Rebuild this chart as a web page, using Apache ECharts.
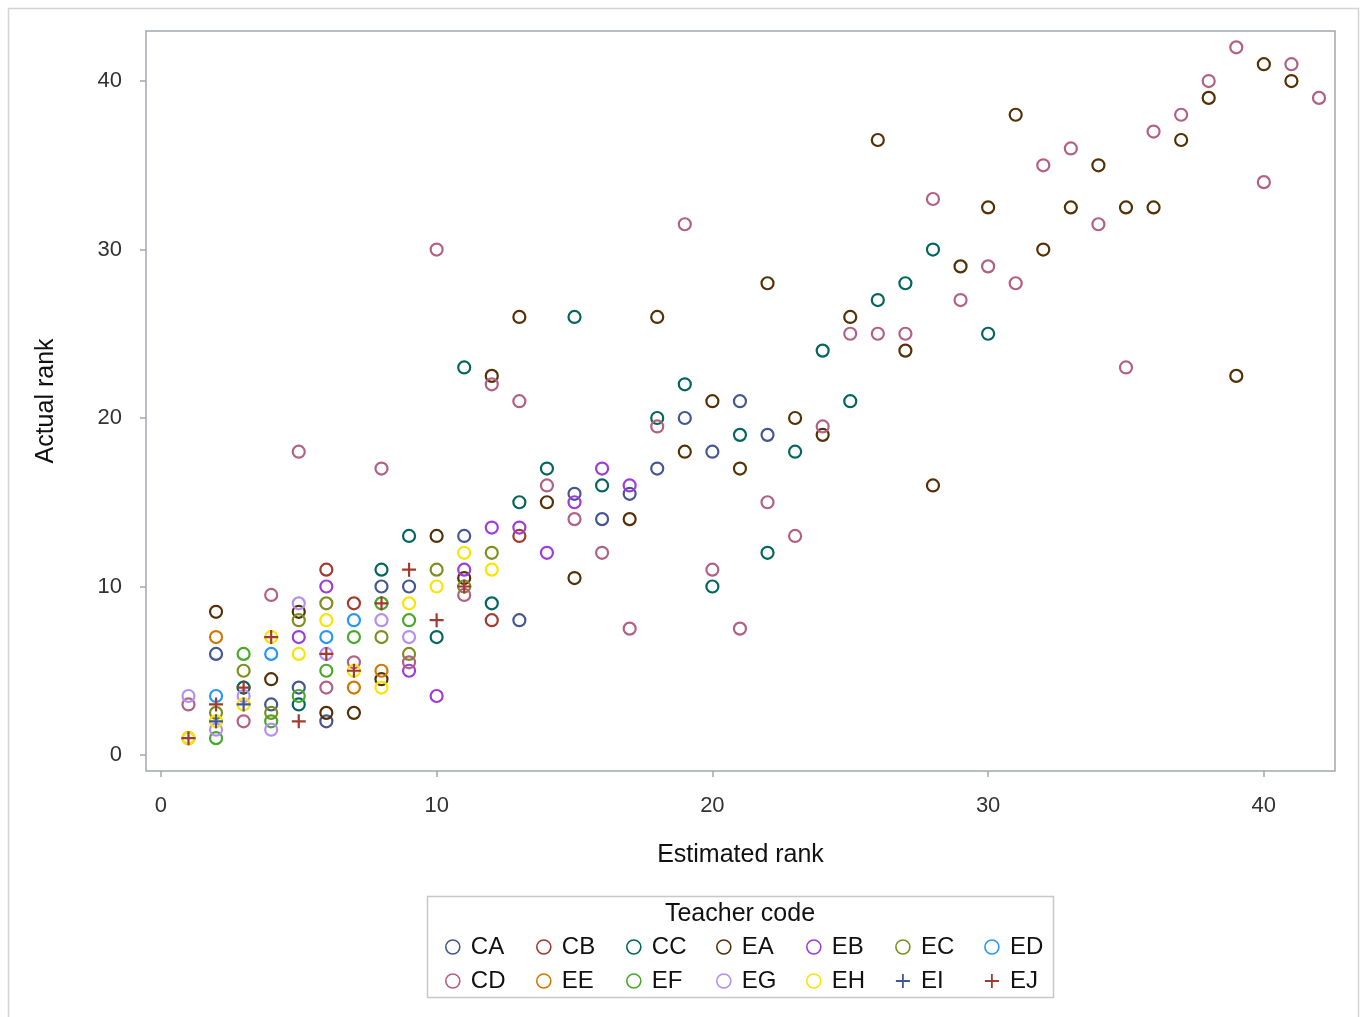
<!DOCTYPE html>
<html>
<head>
<meta charset="utf-8">
<script src="https://cdn.jsdelivr.net/npm/echarts@6/dist/echarts.min.js"></script>
<style>
html,body{margin:0;padding:0;background:#fff;}
#chart{width:1367px;height:1017px;}
</style>
</head>
<body>
<div id="chart"></div>
<script>
// ---- data: [Estimated rank, Actual rank] per teacher ----
const teacherCodes = ['CA','CB','CC','EA','EB','EC','ED','CD','EE','EF','EG','EH','EI','EJ'];
const xTicks = [0, 10, 20, 30, 40];
const yTicks = [0, 10, 20, 30, 40];

const CA = [[2,6],[4,3],[5,4],[6,2],[8,10],[9,10],[11,13],[13,8],[15,15.5],[16,14],[17,15.5],[18,17],[19,20],[20,18],[21,21],[22,19]];
const CB = [[6,11],[7,9],[12,8],[13,13]];
const CC = [[3,4],[5,3],[8,11],[9,13],[10,7],[11,23],[12,9],[13,15],[14,17],[15,26],[16,16],[18,20],[19,22],[20,10],[21,19],[22,12],[23,18],[24,24],[25,21],[26,27],[27,28],[28,30],[30,25]];
const EA = [[2,8.5],[4,4.5],[5,8.5],[6,2.5],[7,2.5],[8,4.5],[10,13],[11,10.5],[12,22.5],[13,26],[14,15],[15,10.5],[17,14],[18,26],[19,18],[20,21],[21,17],[22,28],[23,20],[24,19],[25,26],[26,36.5],[27,24],[28,16],[29,29],[30,32.5],[31,38],[32,30],[33,32.5],[34,35],[35,32.5],[36,32.5],[37,36.5],[38,39],[39,22.5],[40,41],[41,40]];
const EB = [[5,7],[6,10],[9,5],[10,3.5],[11,11],[12,13.5],[13,13.5],[14,12],[15,15],[16,17],[17,16]];
const EC = [[2,2.5],[3,5],[4,2.5],[5,8],[6,9],[8,7],[9,6],[10,11],[11,10],[12,12]];
const ED = [[2,3.5],[4,6],[6,7],[7,8]];
const CD = [[1,3],[3,2],[4,9.5],[5,18],[6,4],[7,5.5],[8,17],[9,5.5],[10,30],[11,9.5],[12,22],[13,21],[14,16],[15,14],[16,12],[17,7.5],[18,19.5],[19,31.5],[20,11],[21,7.5],[22,15],[23,13],[24,19.5],[25,25],[26,25],[27,25],[28,33],[29,27],[30,29],[31,28],[32,35],[33,36],[34,31.5],[35,23],[36,37],[37,38],[38,40],[39,42],[40,34],[41,41],[42,39]];
const EE = [[1,1],[2,7],[7,4],[8,5]];
const EF = [[2,1],[3,6],[4,2],[5,3.5],[6,5],[7,7],[8,9],[9,8]];
const EG = [[1,3.5],[2,1.5],[3,3.5],[4,1.5],[5,9],[6,6],[8,8],[9,7]];
const EH = [[1,1],[2,2],[3,3],[4,7],[5,6],[6,8],[7,5],[8,4],[9,9],[10,10],[11,12],[12,11]];
const EI = [[2,2],[3,3]];
const EJ = [[1,1],[2,3],[3,4],[4,7],[5,2],[6,6],[7,5],[8,9],[9,11],[10,8],[11,10]];

const dataByCode = {CA,CB,CC,EA,EB,EC,ED,CD,EE,EF,EG,EH,EI,EJ};

// ---- styles ----
const colors = {
  CA:'#445694', CB:'#A23A2E', CC:'#01665E', EA:'#543005', EB:'#9D3CDB', EC:'#7F8E1F', ED:'#2597FA',
  CD:'#B26084', EE:'#D17800', EF:'#47A82A', EG:'#B38EF3', EH:'#F9E500', EI:'#445694', EJ:'#A23A2E'
};
const PLUS = 'path://M0,7L14,7M7,0L7,14';
const symbolOf = c => (c === 'EI' || c === 'EJ') ? PLUS : 'circle';

const FONT = '"Liberation Sans", Arial, sans-serif';
const frameColor = '#A2A7AC';

const series = teacherCodes.map(c => ({
  name: c,
  type: 'scatter',
  data: dataByCode[c],
  symbol: symbolOf(c),
  symbolSize: symbolOf(c) === 'circle' ? 12 : 14,
  itemStyle: { color: 'rgba(0,0,0,0)', borderColor: colors[c], borderWidth: 2.2, opacity: 1 },
  emphasis: { disabled: true },
  z: 3
}));

const row1 = ['CA','CB','CC','EA','EB','EC','ED'];
const row2 = ['CD','EE','EF','EG','EH','EI','EJ'];
const colCenters = [447, 538, 628, 718, 808, 897, 986];
const legends = colCenters.map((cx, k) => ({
  orient: 'vertical',
  left: cx - 7,
  top: 929,
  itemWidth: 14,
  itemHeight: 14,
  itemGap: 8,
  selectedMode: false,
  data: [row1[k], row2[k]].map(c => ({
    name: c,
    icon: symbolOf(c),
    itemStyle: { color: 'rgba(0,0,0,0)', borderColor: colors[c], borderWidth: symbolOf(c) === 'circle' ? 1.6 : 1.8 }
  })),
  textStyle: { fontFamily: FONT, fontSize: 24, color: '#111', lineHeight: 26, padding: [0,0,0,6] }
}));

const chart = echarts.init(document.getElementById('chart'), null, { renderer: 'canvas' });
chart.setOption({
  backgroundColor: '#fff',
  animation: false,
  grid: { left: 146, top: 31, width: 1189, height: 740, show: true, borderColor: frameColor, borderWidth: 1.5, backgroundColor: 'transparent' },
  xAxis: {
    type: 'value', min: -0.54, max: 42.58,
    name: 'Estimated rank', nameLocation: 'middle', nameGap: 72,
    nameTextStyle: { fontFamily: FONT, fontSize: 25, color: '#111' },
    axisLine: { show: false, onZero: false },
    axisTick: { show: true, length: 6, lineStyle: { color: frameColor, width: 1.5 }, customValues: xTicks },
    axisLabel: { fontFamily: FONT, fontSize: 22, color: '#333', margin: 24, customValues: xTicks },
    splitLine: { show: false }
  },
  yAxis: {
    type: 'value', min: -0.95, max: 42.97,
    name: 'Actual rank', nameLocation: 'middle', nameGap: 87, nameRotate: 90,
    nameTextStyle: { fontFamily: FONT, fontSize: 25, color: '#111' },
    axisLine: { show: false, onZero: false },
    axisTick: { show: true, length: 6, lineStyle: { color: frameColor, width: 1.5 }, customValues: yTicks },
    axisLabel: { fontFamily: FONT, fontSize: 22, color: '#333', margin: 24, customValues: yTicks },
    splitLine: { show: false }
  },
  legend: legends,
  graphic: [
    { type: 'rect', shape: { x: 8.5, y: 8.5, width: 1350, height: 1020 }, style: { fill: 'none', stroke: '#D4D4D4', lineWidth: 1.5 }, silent: true, z: -1 },
    { type: 'rect', shape: { x: 427.5, y: 896.5, width: 626, height: 101 }, style: { fill: 'none', stroke: '#C8C8C8', lineWidth: 1.5 }, silent: true },
    { type: 'text', x: 740, y: 914, style: { text: 'Teacher code', fontFamily: FONT, fontSize: 25, fill: '#111', align: 'center', verticalAlign: 'middle' }, silent: true }
  ],
  series: series
});
</script>
</body>
</html>
